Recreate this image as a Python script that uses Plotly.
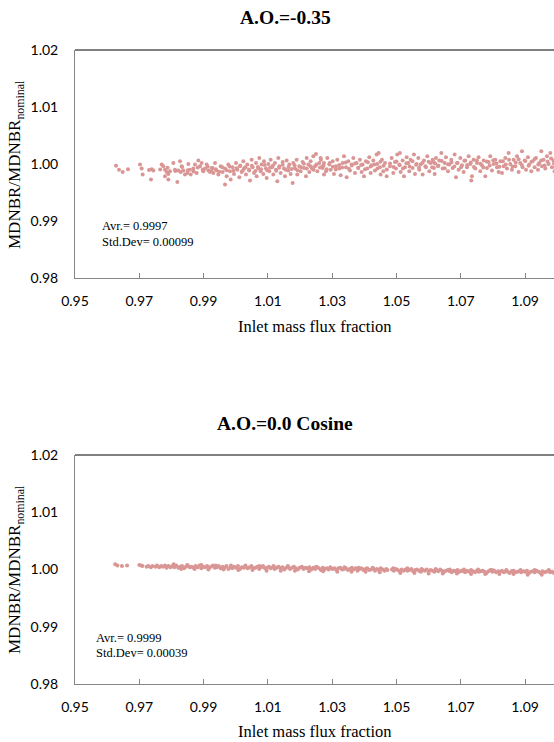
import plotly.graph_objects as go

# ---- Top panel: A.O.=-0.35 ----
top_x = [0.96276, 0.96369, 0.96483, 0.96649, 0.97022, 0.97074, 0.97105, 0.97302, 0.97385, 0.97437,
         0.97364, 0.97696, 0.97748, 0.97800, 0.97852, 0.97903, 0.97800, 0.97955, 0.98059, 0.98183,
         0.98266, 0.98318, 0.98287, 0.98370, 0.98422, 0.98494, 0.98526, 0.98577, 0.98598, 0.98681,
         0.98733, 0.98785, 0.98837, 0.98889, 0.98940, 0.98992, 0.99044, 0.99096, 0.99148, 0.99199,
         0.99282, 0.97903, 0.98111, 0.98214,
         0.99251, 0.99303, 0.99355, 0.99406, 0.99458, 0.99531, 0.99593, 0.99666, 0.99666, 0.99717,
         0.99769, 0.99821, 0.99842, 0.99904, 0.99946, 1.00008, 1.00049, 1.00111, 1.00132, 1.00184,
         1.00236, 1.00257, 1.00319, 1.00360, 1.00422, 1.00443, 1.00495, 1.00526, 1.00568, 1.00630,
         1.00651, 1.00702, 1.00733, 1.00775, 1.00806, 1.00858, 1.00879, 1.00941, 1.00962, 1.01013,
         1.01044, 1.01086, 1.01127, 1.01169, 1.01221, 1.01252, 1.01293, 1.01324, 1.01356, 1.01397,
         1.01459, 1.01501, 1.01532, 1.01584, 1.01635, 1.01667, 1.01708, 1.01770, 1.01791, 1.01843,
         1.01895, 1.01915, 1.01978, 1.02019, 1.02081, 1.02123, 1.02185, 1.02206, 1.02258, 1.02289,
         1.02330, 1.02372, 1.02413, 1.02465, 1.02496, 1.02538, 1.02600, 1.02641, 1.02703, 1.02745,
         1.02651, 1.02703, 1.02744, 1.02807, 1.02848, 1.02910, 1.02952, 1.03014, 1.03055, 1.03118,
         1.03159, 1.03221, 1.03263, 1.03325, 1.03367, 1.03429, 1.03449, 1.03501, 1.03553, 1.03605,
         1.03657, 1.03709, 1.03760, 1.03812, 1.03864, 1.03916, 1.03947, 1.03989, 1.04051, 1.04092,
         1.04154, 1.04196, 1.04227, 1.04279, 1.04331, 1.04383, 1.04403, 1.04445, 1.04486, 1.04507,
         1.04548, 1.04590, 1.04642, 1.04694, 1.04797, 1.04849, 1.04901, 1.04953, 1.04984, 1.05025,
         1.05088, 1.05108, 1.05129, 1.05191, 1.05233, 1.05264, 1.05316, 1.05368, 1.05399, 1.05440,
         1.05502, 1.05544, 1.05575, 1.05627, 1.05679, 1.05710, 1.05751, 1.05813, 1.05855, 1.05917,
         1.05958, 1.06021, 1.06062, 1.06124, 1.06166,
         1.06156, 1.06187, 1.06228, 1.06291, 1.06332, 1.06394, 1.06436, 1.06498, 1.06539, 1.06602,
         1.06643, 1.06705, 1.06747, 1.06809, 1.06851, 1.06882, 1.06933, 1.06985, 1.07037, 1.07089,
         1.07141, 1.07193, 1.07244, 1.07296, 1.07327, 1.07348, 1.07400, 1.07452, 1.07504, 1.07555,
         1.07607, 1.07659, 1.07711, 1.07763, 1.07815, 1.07867, 1.07918, 1.07970, 1.08022, 1.08074,
         1.08126, 1.08178, 1.08229, 1.08281, 1.08333, 1.08385, 1.08437, 1.08489, 1.08540, 1.08592,
         1.08644, 1.08696, 1.08748, 1.08800, 1.08851, 1.08903, 1.08924, 1.08986, 1.09028, 1.09090,
         1.09131, 1.09194, 1.09235, 1.09297, 1.09339, 1.09401, 1.09442, 1.09505, 1.09525, 1.09577,
         1.09629, 1.09681, 1.09733, 1.09785, 1.09837, 1.09888, 1.09919]
top_y = [0.99974, 0.99904, 0.99863, 0.99910, 0.99992, 0.99922, 0.99817, 0.99898, 0.99910, 0.99887,
         0.99729, 0.99992, 0.99963, 0.99904, 0.99863, 0.99828, 0.99787, 0.99875, 1.00021, 0.99688,
         1.00050, 0.99963, 0.99863, 0.99887, 0.99817, 0.99846, 1.00004, 0.99904, 0.99817, 0.99922,
         0.99992, 0.99846, 1.00062, 0.99963, 1.00021, 0.99875, 0.99922, 0.99992, 0.99887, 0.99863,
         0.99933, 0.99729, 0.99904, 0.99887,
         0.99933, 0.99846, 1.00021, 0.99887, 0.99817, 0.99963, 0.99863, 0.99642, 0.99922, 0.99787,
         0.99992, 0.99875, 0.99729, 0.99945, 0.99828, 1.00021, 0.99904, 0.99770, 0.99963, 0.99863,
         1.00050, 0.99922, 0.99817, 0.99992, 0.99887, 0.99712, 1.00079, 0.99945, 0.99846, 1.00021,
         0.99787, 0.99922, 1.00109, 0.99875, 0.99992, 0.99828, 1.00050, 0.99922, 0.99758, 1.00004,
         0.99875, 1.00079, 0.99945, 0.99817, 1.00021, 0.99904, 0.99700, 1.00109, 0.99963, 0.99846,
         1.00039, 0.99922, 0.99787, 1.00062, 0.99887, 0.99992, 0.99828, 0.99671, 1.00021, 0.99922,
         1.00079, 0.99817, 0.99963, 0.99875, 1.00039, 0.99933, 0.99787, 1.00109, 0.99992, 0.99863,
         1.00050, 0.99922, 1.00138, 0.99963, 1.00179, 0.99875, 1.00021, 1.00109, 0.99933, 0.99817,
         1.00079, 0.99963, 1.00021, 0.99875, 1.00109, 0.99992, 0.99904, 1.00050, 0.99828, 0.99963,
         1.00079, 0.99922, 0.99805, 1.00021, 1.00138, 0.99945, 0.99770, 1.00050, 0.99887, 0.99992,
         1.00109, 0.99846, 1.00021, 0.99933, 1.00079, 0.99863, 0.99992, 0.99787, 1.00050, 0.99922,
         1.00120, 0.99846, 0.99980, 1.00062, 0.99887, 1.00167, 1.00004, 1.00196, 0.99945, 0.99817,
         1.00079, 0.99875, 1.00021, 0.99787, 0.99963, 1.00109, 0.99846, 1.00039, 0.99922, 1.00167,
         0.99992, 1.00196, 0.99863, 1.00062, 0.99787, 0.99945, 1.00120, 1.00021, 0.99875, 1.00079,
         0.99933, 1.00167, 0.99828, 1.00004, 1.00109, 0.99904, 0.99992, 0.99817, 1.00062, 0.99945,
         1.00138, 0.99875, 1.00021, 1.00079, 0.99933,
         1.00039, 0.99828, 1.00109, 0.99963, 1.00062, 1.00196, 0.99922, 1.00021, 1.00120, 0.99875,
         0.99992, 1.00079, 0.99933, 1.00167, 0.99770, 1.00021, 0.99904, 1.00109, 0.99980, 0.99863,
         1.00062, 0.99945, 1.00138, 1.00004, 0.99712, 0.99787, 1.00079, 0.99922, 1.00021, 1.00120,
         0.99875, 0.99980, 1.00062, 0.99787, 0.99933, 1.00039, 1.00138, 0.99887, 1.00004, 1.00079,
         0.99945, 0.99863, 1.00050, 0.99846, 0.99963, 1.00109, 0.99922, 1.00196, 1.00004, 0.99904,
         1.00079, 0.99963, 1.00138, 0.99863, 1.00021, 1.00225, 0.99945, 1.00062, 0.99904, 1.00120,
         0.99992, 0.99875, 1.00050, 0.99945, 1.00109, 0.99904, 1.00021, 1.00225, 0.99963, 1.00079,
         0.99922, 1.00138, 1.00004, 1.00196, 0.99945, 1.00062, 0.99875]
# denser core of the same cloud
top_x_core = [0.9765, 0.9788, 0.9812, 0.9833, 0.9851, 0.9869, 0.9882, 0.9897, 0.9913, 0.9925,
              0.9938, 0.9949, 0.9958, 0.9972, 0.9981, 0.9993, 1.0003, 1.0014, 1.0022, 1.0030,
              1.0041, 1.0050, 1.0061, 1.0069, 1.0079, 1.0090, 1.0098, 1.0107, 1.0116, 1.0126,
              1.0135, 1.0146, 1.0155, 1.0164, 1.0174, 1.0183, 1.0192, 1.0203, 1.0212, 1.0221,
              1.0233, 1.0242, 1.0251, 1.0262, 1.0273, 1.0283, 1.0292, 1.0302, 1.0311, 1.0322,
              1.0331, 1.0342, 1.0352, 1.0361, 1.0371, 1.0381, 1.0390, 1.0402, 1.0411, 1.0420,
              1.0431, 1.0441, 1.0450, 1.0460, 1.0470, 1.0480, 1.0491, 1.0500, 1.0510, 1.0520,
              1.0531, 1.0541, 1.0550, 1.0561, 1.0570, 1.0581, 1.0590, 1.0600, 1.0611, 1.0620,
              1.0630, 1.0641, 1.0650, 1.0660, 1.0671, 1.0680, 1.0690, 1.0701, 1.0711, 1.0720,
              1.0731, 1.0741, 1.0750, 1.0761, 1.0770, 1.0781, 1.0790, 1.0801, 1.0811, 1.0820,
              1.0831, 1.0840, 1.0850, 1.0861, 1.0871, 1.0880, 1.0890, 1.0901, 1.0911, 1.0920,
              1.0930, 1.0941, 1.0950, 1.0961, 1.0970, 1.0981, 1.0990]
top_y_core = [0.99905, 0.99935, 0.99880, 0.99950, 0.99895, 0.99870, 0.99940, 0.99900, 0.99955, 0.99880,
              0.99910, 0.99865, 0.99945, 0.99895, 0.99960, 0.99885, 0.99930, 0.99975, 0.99890, 0.99945,
              0.99905, 0.99970, 0.99880, 0.99950, 0.99910, 0.99985, 0.99895, 0.99940, 0.99975, 0.99885,
              0.99935, 0.99990, 0.99900, 0.99950, 0.99915, 0.99980, 0.99895, 0.99945, 1.00005, 0.99925,
              0.99965, 0.99900, 0.99995, 0.99940, 0.99975, 0.99910, 1.00020, 0.99955, 0.99905, 0.99985,
              0.99940, 1.00030, 0.99920, 0.99975, 1.00010, 0.99935, 0.99985, 0.99910, 1.00035, 0.99960,
              0.99995, 0.99925, 1.00040, 0.99970, 0.99905, 1.00010, 0.99950, 1.00045, 0.99980, 0.99925,
              1.00015, 0.99960, 1.00050, 0.99990, 0.99935, 1.00025, 0.99965, 1.00040, 0.99945, 1.00010,
              0.99975, 1.00055, 0.99930, 1.00000, 1.00035, 0.99960, 1.00020, 0.99945, 1.00060, 0.99985,
              1.00030, 0.99950, 1.00065, 1.00005, 0.99940, 1.00045, 0.99975, 1.00070, 1.00010, 0.99955,
              1.00050, 0.99995, 1.00075, 0.99960, 1.00030, 1.00085, 0.99985, 1.00055, 0.99970, 1.00040,
              1.00090, 0.99995, 1.00065, 0.99975, 1.00045, 1.00100, 1.00010]

# ---- Bottom panel: A.O.=0.0 Cosine ----
bot_x = [0.9625, 0.9632, 0.9646, 0.9662, 0.9700, 0.9706, 0.9710, 0.9723, 0.9728, 0.9736,
         0.9741, 0.9750, 0.9755, 0.9762, 0.9768, 0.9774, 0.9780, 0.9785, 0.9791, 0.9797,
         0.9803, 0.9809, 0.9815, 0.9821, 0.9827, 0.9833, 0.9839, 0.9845, 0.9851, 0.9857,
         0.9863, 0.9869, 0.9875, 0.9881, 0.9887, 0.9893, 0.9899, 0.9905, 0.9911, 0.9917,
         0.9923, 0.9929, 0.9935, 0.9941, 0.9947, 0.9953, 0.9959, 0.9965, 0.9971, 0.9977,
         0.9983, 0.9989, 0.9995, 1.0001, 1.0007, 1.0013, 1.0019, 1.0025, 1.0031, 1.0037,
         1.0043, 1.0049, 1.0055, 1.0061, 1.0067, 1.0073, 1.0079, 1.0085, 1.0091, 1.0097,
         1.0103, 1.0109, 1.0115, 1.0121, 1.0127, 1.0133, 1.0139, 1.0145, 1.0151, 1.0157,
         1.0163, 1.0169, 1.0175, 1.0181, 1.0187, 1.0193, 1.0199, 1.0205, 1.0211, 1.0217,
         1.0223, 1.0229, 1.0235, 1.0241, 1.0247, 1.0253, 1.0259, 1.0265, 1.0271, 1.0277,
         1.0283, 1.0289, 1.0295, 1.0301, 1.0307, 1.0313, 1.0319, 1.0325, 1.0331, 1.0337,
         1.0343, 1.0349, 1.0355, 1.0361, 1.0367, 1.0373, 1.0379, 1.0385, 1.0391, 1.0397,
         1.0403, 1.0409, 1.0415, 1.0421, 1.0427, 1.0433, 1.0439, 1.0445, 1.0451, 1.0457,
         1.0463, 1.0468, 1.0472, 1.0486, 1.0492, 1.0498, 1.0504, 1.0510, 1.0516, 1.0522,
         1.0528, 1.0534, 1.0540, 1.0546, 1.0552, 1.0558, 1.0564, 1.0570, 1.0576, 1.0582,
         1.0588, 1.0594, 1.0600, 1.0606, 1.0612, 1.0618, 1.0624, 1.0630, 1.0636, 1.0642,
         1.0648, 1.0654, 1.0660, 1.0666, 1.0672, 1.0678, 1.0684, 1.0690, 1.0696, 1.0702,
         1.0708, 1.0714, 1.0720, 1.0726, 1.0732, 1.0738, 1.0744, 1.0750, 1.0756, 1.0762,
         1.0768, 1.0774, 1.0780, 1.0786, 1.0792, 1.0798, 1.0804, 1.0810, 1.0816, 1.0822,
         1.0828, 1.0834, 1.0840, 1.0846, 1.0852, 1.0858, 1.0864, 1.0870, 1.0876, 1.0882,
         1.0888, 1.0894, 1.0900, 1.0906, 1.0912, 1.0918, 1.0924, 1.0930, 1.0936, 1.0942,
         1.0948, 1.0954, 1.0960, 1.0966, 1.0972, 1.0978, 1.0984, 1.0990, 1.0996, 1.1002]
bot_y = [1.0009, 1.0007, 1.0006, 1.0007, 1.0008, 1.0007, 1.0006, 1.0005, 1.0006, 1.0004,
         1.0006, 1.0005, 1.0007, 1.0004, 1.0006, 1.0005, 1.0007, 1.0003, 1.0006, 1.0004,
         1.0006, 1.0004, 1.0007, 1.0003, 1.0005, 1.0006, 1.0002, 1.0005, 1.0007, 1.0004,
         1.0005, 1.0003, 1.0006, 1.0004, 1.0007, 1.0002, 1.0005, 1.0004, 1.0006, 1.0003,
         1.0005, 1.0007, 1.0003, 1.0004, 1.0006, 1.0002, 1.0005, 1.0003, 1.0006, 1.0001,
         1.0004, 1.0002, 1.0005, 1.0003, 1.0006, 1.0001, 1.0004, 1.0003, 1.0005, 1.0002,
         1.0004, 1.0006, 1.0002, 1.0003, 1.0005, 1.0001, 1.0004, 1.0006, 1.0002, 1.0003,
         1.0005, 1.0002, 1.0004, 1.0001, 1.0003, 1.0005, 1.0002, 1.0004, 1.0000, 1.0003,
         1.0004, 1.0001, 1.0003, 1.0005, 1.0002, 1.0000, 1.0003, 1.0004, 1.0001, 1.0003,
         1.0002, 1.0004, 1.0000, 1.0003, 1.0001, 1.0004, 1.0002, 0.9999, 1.0003, 1.0001,
         1.0002, 1.0000, 1.0003, 1.0001, 1.0002, 0.9999, 1.0002, 1.0003, 1.0000, 1.0001,
         1.0002, 0.9999, 1.0001, 1.0003, 1.0000, 1.0002, 0.9998, 1.0001, 1.0002, 0.9999,
         1.0001, 1.0002, 0.9999, 1.0000, 1.0002, 0.9998, 1.0001, 0.9999, 1.0002, 1.0000,
         0.9998, 1.0001, 0.9999, 1.0000, 0.9998, 1.0001, 0.9999, 0.9997, 1.0000, 0.9998,
         1.0000, 0.9998, 0.9999, 1.0001, 0.9997, 0.9999, 1.0000, 0.9998, 0.9996, 0.9999,
         0.9998, 1.0000, 0.9997, 0.9999, 0.9998, 0.9996, 0.9999, 0.9997, 1.0000, 0.9998,
         0.9996, 0.9998, 0.9999, 0.9997, 0.9995, 0.9998, 0.9997, 0.9999, 0.9996, 0.9998,
         0.9997, 0.9995, 0.9998, 0.9996, 0.9999, 0.9997, 0.9995, 0.9998, 0.9996, 0.9997,
         0.9998, 0.9996, 0.9994, 0.9997, 0.9999, 0.9996, 0.9998, 0.9995, 0.9997, 0.9996,
         0.9998, 0.9995, 0.9997, 0.9996, 0.9994, 0.9997, 0.9998, 0.9995, 0.9996, 0.9997,
         0.9995, 0.9997, 0.9996, 0.9998, 0.9994, 0.9996, 0.9997, 0.9995, 0.9998, 0.9996,
         0.9994, 0.9997, 0.9995, 0.9996, 0.9998, 0.9995, 0.9996, 0.9994, 0.9997, 0.9995]
# band edges of the same cloud
bot_x_edge = [0.9807, 0.9830, 0.9849, 0.9872, 0.9893, 0.9915, 0.9938, 0.9962, 0.9985, 1.0008,
              1.0030, 1.0052, 1.0074, 1.0096, 1.0118, 1.0140, 1.0162, 1.0184, 1.0206, 1.0228,
              1.0250, 1.0272, 1.0294, 1.0316, 1.0338, 1.0360, 1.0382, 1.0404, 1.0426, 1.0448,
              1.0490, 1.0512, 1.0534, 1.0556, 1.0578, 1.0600, 1.0622, 1.0644, 1.0666, 1.0688,
              1.0710, 1.0732, 1.0754, 1.0776, 1.0798, 1.0820, 1.0842, 1.0864, 1.0886, 1.0908,
              1.0930, 1.0952, 1.0974, 1.0996]
bot_y_edge = [1.0009, 1.0001, 1.0008, 1.0001, 1.0008, 1.0000, 1.0007, 1.0000, 1.0007, 0.9999,
              1.0007, 0.9999, 1.0006, 0.9998, 1.0006, 0.9998, 1.0006, 0.9998, 1.0005, 0.9997,
              1.0005, 0.9997, 1.0004, 0.9996, 1.0004, 0.9996, 1.0003, 0.9996, 1.0003, 0.9995,
              1.0002, 0.9994, 1.0002, 0.9994, 1.0001, 0.9993, 1.0001, 0.9993, 1.0000, 0.9993,
              1.0000, 0.9992, 1.0000, 0.9992, 0.9999, 0.9992, 0.9999, 0.9992, 0.9999, 0.9991,
              0.9999, 0.9991, 0.9999, 0.9992]

x_ticks = [0.95, 0.97, 0.99, 1.01, 1.03, 1.05, 1.07, 1.09]
y_ticks = [0.98, 0.99, 1.00, 1.01, 1.02]
titles = ["A.O.=-0.35", "A.O.=0.0 Cosine"]
stats = [("Avr.= 0.9997", "Std.Dev= 0.00099"), ("Avr.= 0.9999", "Std.Dev= 0.00039")]

W, H = 554, 742
DOT = "#D99694"
AXC = "#868686"
TICKFONT = dict(family="Lato, Carlito, sans-serif", size=14, color="#000000")
SERIF = "Liberation Serif, Times New Roman, serif"

fig = go.Figure()
fig.add_trace(go.Scatter(x=top_x + top_x_core, y=top_y + top_y_core, mode="markers",
                         xaxis="x", yaxis="y",
                         marker=dict(color=DOT, size=4, line=dict(width=0)), showlegend=False))
fig.add_trace(go.Scatter(x=bot_x + bot_x_edge, y=bot_y + bot_y_edge, mode="markers",
                         xaxis="x2", yaxis="y2",
                         marker=dict(color=DOT, size=4, line=dict(width=0)), showlegend=False))

xdom = [75 / W, 1.0]
ydom_top = [1 - 278.3 / H, 1 - 50 / H]
ydom_bot = [1 - 684 / H, 1 - 455 / H]
xr = [0.95, 1.0990]

def xaxis_cfg(anchor):
    return dict(domain=xdom, range=xr, anchor=anchor, tickvals=x_ticks, tickformat=".2f",
                showline=True, linecolor=AXC, linewidth=1, ticks="inside", ticklen=5,
                tickcolor=AXC, showgrid=False, zeroline=False, tickfont=TICKFONT,
                ticklabelstandoff=10, fixedrange=True, automargin=False)

def yaxis_cfg(anchor, dom):
    return dict(domain=dom, range=[0.98, 1.02], anchor=anchor, tickvals=y_ticks, tickformat=".2f",
                showline=True, linecolor=AXC, linewidth=1, ticks="", showgrid=False,
                zeroline=False, tickfont=TICKFONT, ticklabelstandoff=13, fixedrange=True,
                automargin=False)

fig.update_layout(
    template="none",
    width=W, height=H, margin=dict(l=0, r=0, t=0, b=0, pad=0, autoexpand=False),
    paper_bgcolor="white", plot_bgcolor="white",
    xaxis=xaxis_cfg("y"), yaxis=yaxis_cfg("x", ydom_top),
    xaxis2=xaxis_cfg("y2"), yaxis2=yaxis_cfg("x2", ydom_bot),
)

# top frame lines of each plot area
for xa, ya in (("x", "y"), ("x2", "y2")):
    fig.add_shape(type="line", xref=f"{xa} domain", yref=f"{ya} domain", x0=0, x1=1, y0=1, y1=1,
                  line=dict(color="#000000", width=1))

def note(text, px, py, size, xanchor="center", angle=0):
    return dict(text=text, x=px / W, y=1 - py / H, xref="paper", yref="paper",
                xanchor=xanchor, yanchor="middle", showarrow=False, textangle=angle,
                font=dict(family=SERIF, size=size, color="#000"))

ann = []
for i, (ty, xt_y, yt_y, s1_x, s1_y, s2_y) in enumerate([
        (17, 326, 165, 100, 226, 242),
        (423, 731, 570, 94, 638, 653)]):
    ann.append(note("<b>%s</b>" % titles[i], 285, ty, 19.5))
    ann.append(note("Inlet mass flux fraction", 315, xt_y, 16.5))
    ann.append(note("MDNBR/MDNBR<sub>nominal</sub>", 16, yt_y, 17, angle=-90))
    ann.append(note(stats[i][0], s1_x, s1_y, 12.5, xanchor="left"))
    ann.append(note(stats[i][1], s1_x, s2_y, 12.5, xanchor="left"))
fig.update_layout(annotations=ann)

fig.write_html("out.html", config={"displayModeBar": False},
               post_script="document.body.style.margin='0';document.body.style.overflow='hidden';")
